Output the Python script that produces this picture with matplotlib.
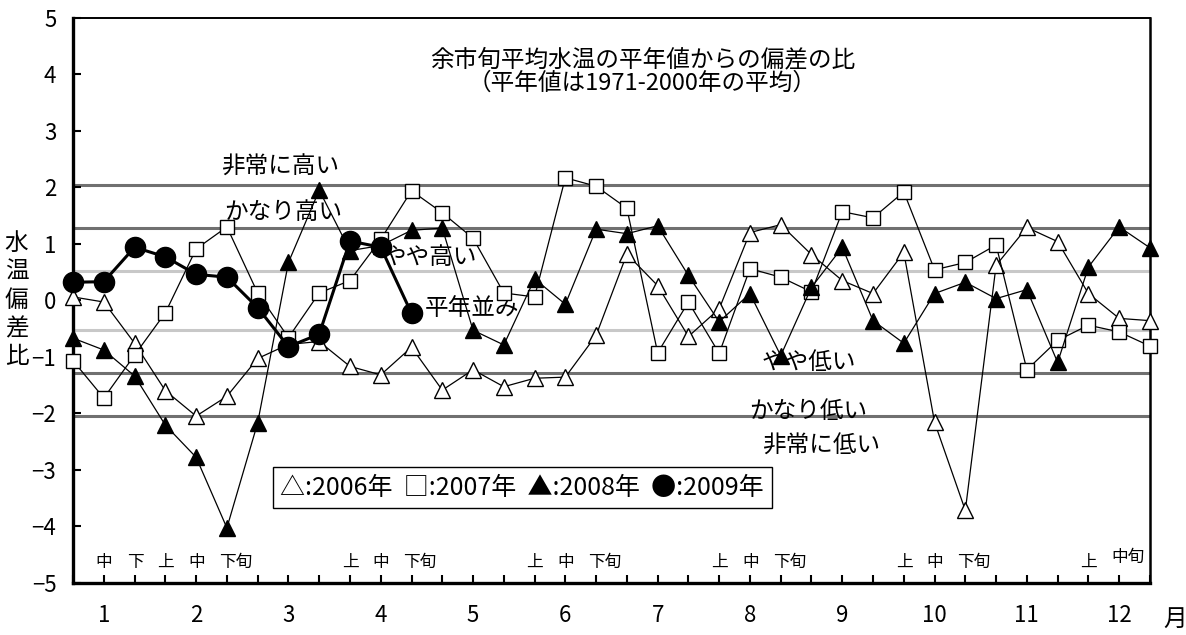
import matplotlib
matplotlib.use("Agg")
import matplotlib.pyplot as plt
from matplotlib.transforms import blended_transform_factory

# Japanese font first, DejaVu as fallback for anything missing
plt.rcParams['font.family'] = ['Noto Sans CJK JP', 'DejaVu Sans']
plt.rcParams['axes.unicode_minus'] = False

# 36 dekads (上・中・下旬 of each month), index 0 = 1月上旬
months = ['1', '2', '3', '4', '5', '6', '7', '8', '9', '10', '11', '12']

y2006 = [0.06, -0.03, -0.76, -1.60, -2.05, -1.70, -1.03, -0.78, -0.73, -1.17, -1.32, -0.83,
         -1.59, -1.23, -1.53, -1.38, -1.36, -0.62, 0.82, 0.26, -0.64, -0.15, 1.20, 1.34,
         0.81, 0.35, 0.12, 0.85, -2.16, -3.72, 0.62, 1.29, 1.04, 0.12, -0.32, -0.36]
y2007 = [-1.07, -1.73, -0.97, -0.22, 0.91, 1.30, 0.13, -0.66, 0.13, 0.35, 1.08, 1.94,
         1.55, 1.10, 0.13, 0.06, 2.17, 2.02, 1.63, -0.93, -0.03, -0.94, 0.56, 0.41,
         0.15, 1.57, 1.46, 1.92, 0.54, 0.67, 0.98, -1.23, -0.71, -0.44, -0.56, -0.81]
y2008 = [-0.67, -0.88, -1.34, -2.21, -2.78, -4.03, -2.17, 0.67, 1.95, 0.88, 0.97, 1.24,
         1.28, -0.53, -0.79, 0.38, -0.07, 1.26, 1.18, 1.32, 0.44, -0.38, 0.12, -0.98,
         0.23, 0.94, -0.36, -0.76, 0.12, 0.32, 0.03, 0.19, -1.10, 0.59, 1.30, 0.93]
y2009 = [0.32, 0.33, 0.94, 0.77, 0.46, 0.41, -0.13, -0.82, -0.60, 1.05, 0.94, -0.23]

# class boundaries (平年並み / やや / かなり / 非常に)
dark_lines = [2.05, 1.28, -1.28, -2.05]
light_lines = [0.52, -0.52]

fs = 17

fig = plt.figure(figsize=(11.86, 6.35), dpi=100)
ax = fig.add_axes([0.0616, 0.0824, 0.908, 0.8893])

for v in dark_lines:
    ax.axhline(v, color='#707070', lw=2.2, zorder=1)
for v in light_lines:
    ax.axhline(v, color='#c8c8c8', lw=2.2, zorder=1)

x36 = list(range(36))
ax.plot(x36, y2006, color='black', lw=0.9, marker='^', ms=11,
        mfc='white', mec='black', mew=1.0, zorder=3, clip_on=False)
ax.plot(x36, y2007, color='black', lw=0.9, marker='s', ms=10.5,
        mfc='white', mec='black', mew=1.0, zorder=4, clip_on=False)
ax.plot(x36, y2008, color='black', lw=0.9, marker='^', ms=11,
        mfc='black', mec='black', zorder=5, clip_on=False)
ax.plot(range(len(y2009)), y2009, color='black', lw=2.2, marker='o', ms=14.5,
        mfc='black', mec='black', zorder=6, clip_on=False)

ax.set_xlim(0, 35)
ax.set_ylim(-5, 5)
ax.set_yticks(range(-5, 6))
ax.set_yticklabels([str(v).replace('-', '−') for v in range(-5, 6)], fontsize=16)

ax.set_xticks(x36)
xlabels = [''] * 36
for i, m in enumerate(months):
    xlabels[3 * i + 1] = m
ax.set_xticklabels(xlabels, fontsize=16)

ax.tick_params(axis='x', direction='in', length=6, width=1.5, pad=15)
ax.tick_params(axis='y', direction='in', length=6, width=1.5, pad=12)

for side in ['left', 'bottom']:
    ax.spines[side].set_linewidth(2.4)
ax.spines['right'].set_linewidth(1.8)
ax.spines['top'].set_linewidth(1.4)

# dekad labels just above the x axis
dekads = [(1, '中'), (2, '下'), (3, '上'), (4, '中'), (5, '下旬'),
          (9, '上'), (10, '中'), (11, '下旬'),
          (15, '上'), (16, '中'), (17, '下旬'),
          (21, '上'), (22, '中'), (23, '下旬'),
          (27, '上'), (28, '中'), (29, '下旬'),
          (33, '上')]
for xi, s in dekads:
    ax.text(xi - 0.26, -4.64, s, fontsize=12, ha='left', va='center')
ax.text(34 - 0.26, -4.55, '中旬', fontsize=12, ha='left', va='center')

ax.text(18.5, 4.05, '余市旬平均水温の平年値からの偏差の比\n（平年値は1971-2000年の平均）',
        fontsize=fs, ha='center', va='center', multialignment='center', linespacing=1.0)

ax.text(6.73, 2.36, '非常に高い', fontsize=fs, ha='center', va='center')
ax.text(6.83, 1.55, 'かなり高い', fontsize=fs, ha='center', va='center')
ax.text(11.6, 0.75, 'やや高い', fontsize=fs, ha='center', va='center', zorder=2)
ax.text(12.98, -0.15, '平年並み', fontsize=fs, ha='center', va='center', zorder=2)
ax.text(23.9, -1.1, 'やや低い', fontsize=fs, ha='center', va='center', zorder=2)
ax.text(23.9, -1.97, 'かなり低い', fontsize=fs, ha='center', va='center', zorder=2)
ax.text(24.3, -2.59, '非常に低い', fontsize=fs, ha='center', va='center', zorder=2)

ax.text(14.6, -3.32, '△:2006年  □:2007年  ▲:2008年  ●:2009年', fontsize=18,
        ha='center', va='center', zorder=7,
        bbox=dict(boxstyle='square,pad=0.3', fc='white', ec='black', lw=1.0))

# vertical y label, one character per line
trans = blended_transform_factory(fig.transFigure, ax.transData)
for ch, yv in zip('水温偏差比', [1, 0.5, 0, -0.5, -1]):
    ax.text(0.014, yv, ch, fontsize=fs, ha='center', va='center',
            transform=trans, clip_on=False)

fig.text(0.991, 0.025, '月', fontsize=fs, ha='center', va='center')

fig.savefig('out.png', dpi=100)
